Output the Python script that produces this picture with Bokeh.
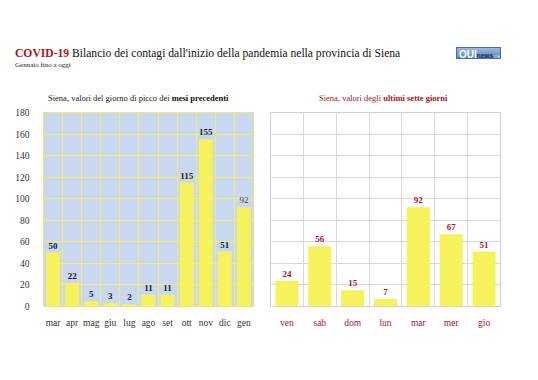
from bokeh.plotting import figure
from bokeh.models import Div, FixedTicker, ColumnDataSource
from bokeh.layouts import column, row
from bokeh.embed import file_html
from bokeh.resources import INLINE
from bokeh.core.properties import value

# ---- data ----
months = ["mar", "apr", "mag", "giu", "lug", "ago", "set", "ott", "nov", "dic", "gen"]
month_peaks = [50, 22, 5, 3, 2, 11, 11, 115, 155, 51, 92]
days = ["ven", "sab", "dom", "lun", "mar", "mer", "gio"]
day_values = [24, 56, 15, 7, 92, 67, 51]
y_ticks = [0, 20, 40, 60, 80, 100, 120, 140, 160, 180]

SERIF = "Liberation Serif"
YELLOW = "#f6f25c"
DARKRED = "#b0141a"

# ---- header ----
header = Div(
    width=530, height=80, margin=0,
    text=(
        '<div style="position:relative;width:530px;height:80px;font-family:\'Liberation Serif\',serif;">'
        '<div style="position:absolute;left:15px;top:46px;font-size:11.6px;white-space:nowrap;color:#111;">'
        '<span style="color:#b0141a;font-weight:bold;">COVID-19</span> Bilancio dei contagi dall\'inizio della pandemia nella provincia di Siena</div>'
        '<div style="position:absolute;left:15px;top:60px;font-size:7px;white-space:nowrap;color:#222;">Gennaio fino a oggi</div>'
        '<div style="position:absolute;left:456px;top:47px;width:45px;height:12px;background:linear-gradient(#9db9e0,#5f86bd);'
        'border:1px solid #4a6fa5;font-family:Arial,sans-serif;line-height:12px;white-space:nowrap;overflow:hidden;">'
        '<span style="color:#fff;font-weight:bold;font-size:10px;margin-left:2px;">QUI</span>'
        '<span style="color:#1d2f5a;font-weight:bold;font-size:6.5px;">news</span>'
        '<span style="color:#dbe5f5;font-size:5.5px;">.net</span></div>'
        '</div>'
    ),
)

title1 = Div(
    width=265, height=26, margin=0,
    text=('<div style="position:relative;width:265px;height:26px;font-family:\'Liberation Serif\',serif;">'
          '<div style="position:absolute;left:48px;top:12px;font-size:8.5px;white-space:nowrap;color:#222;">'
          'Siena, valori del giorno di picco dei <b style="color:#111;">mesi precedenti</b></div></div>'),
)
title2 = Div(
    width=265, height=26, margin=0,
    text=('<div style="position:relative;width:265px;height:26px;font-family:\'Liberation Serif\',serif;">'
          '<div style="position:absolute;left:54px;top:12px;font-size:8.5px;white-space:nowrap;color:#b0141a;">'
          'Siena, valori degli <b>ultimi sette giorni</b></div></div>'),
)

# ---- left chart ----
n1 = len(months)
x1 = [i + 0.5 for i in range(n1)]
src1 = ColumnDataSource(dict(x=x1, top=month_peaks))

p1 = figure(width=265, height=224, x_range=(0, n1), y_range=(0, 180),
            output_backend="svg", toolbar_location=None, margin=0,
            min_border_left=43, min_border_right=12, min_border_top=6, min_border_bottom=24)
p1.background_fill_color = "#c9d8f0"
p1.border_fill_color = "white"
p1.outline_line_color = "#e8e86a"
p1.vbar(x="x", top="top", width=0.72, bottom=0, source=src1, fill_color=YELLOW, line_color=None)

# labels: all bold dark except last (regular)
src1b = ColumnDataSource(dict(x=x1[:-1], y=month_peaks[:-1], lab=[str(v) for v in month_peaks[:-1]]))
src1c = ColumnDataSource(dict(x=x1[-1:], y=month_peaks[-1:], lab=[str(v) for v in month_peaks[-1:]]))
p1.text(x="x", y="y", text="lab", source=src1b, text_align="center", text_baseline="bottom",
        y_offset=-4, text_font=value(SERIF), text_font_style="bold", text_font_size="9px", text_color="#1a1a2a")
p1.text(x="x", y="y", text="lab", source=src1c, text_align="center", text_baseline="bottom",
        y_offset=-4, text_font=value(SERIF), text_font_size="9px", text_color="#444455")

p1.xaxis.ticker = FixedTicker(ticks=x1)
p1.xaxis.major_label_overrides = {x: m for x, m in zip(x1, months)}
p1.yaxis.ticker = FixedTicker(ticks=y_ticks)
p1.xgrid.ticker = FixedTicker(ticks=list(range(n1 + 1)))
p1.ygrid.ticker = FixedTicker(ticks=y_ticks)
for g in (p1.xgrid, p1.ygrid):
    g.grid_line_color = "#eeee70"
    g.grid_line_width = 1
for ax in (p1.xaxis, p1.yaxis):
    ax.axis_line_color = None
    ax.major_tick_line_color = None
    ax.minor_tick_line_color = None
    ax.major_label_text_font = SERIF
    ax.major_label_text_font_size = "9.5px"
    ax.major_label_text_color = "#333333"
p1.xaxis.major_label_standoff = 5
p1.yaxis.major_label_standoff = 8

# ---- right chart ----
n2 = len(days)
x2 = [i + 0.5 for i in range(n2)]
src2 = ColumnDataSource(dict(x=x2, top=day_values, lab=[str(v) for v in day_values]))

p2 = figure(width=265, height=224, x_range=(0, n2), y_range=(0, 180),
            output_backend="svg", toolbar_location=None, margin=0,
            min_border_left=5, min_border_right=30, min_border_top=6, min_border_bottom=24)
p2.background_fill_color = "white"
p2.border_fill_color = "white"
p2.outline_line_color = "#d0d0d0"
p2.vbar(x="x", top="top", width=0.7, bottom=0, source=src2, fill_color=YELLOW, line_color=None)
p2.text(x="x", y="top", text="lab", source=src2, text_align="center", text_baseline="bottom",
        y_offset=-4, text_font=value(SERIF), text_font_style="bold", text_font_size="9px", text_color=DARKRED)

p2.xaxis.ticker = FixedTicker(ticks=x2)
p2.xaxis.major_label_overrides = {x: d for x, d in zip(x2, days)}
p2.yaxis.visible = False
p2.xgrid.ticker = FixedTicker(ticks=list(range(n2 + 1)))
p2.ygrid.ticker = FixedTicker(ticks=y_ticks)
for g in (p2.xgrid, p2.ygrid):
    g.grid_line_color = "#d9d9d9"
    g.grid_line_width = 1
p2.xaxis.axis_line_color = None
p2.xaxis.major_tick_line_color = None
p2.xaxis.minor_tick_line_color = None
p2.xaxis.major_label_text_font = SERIF
p2.xaxis.major_label_text_font_size = "9.5px"
p2.xaxis.major_label_text_color = DARKRED
p2.xaxis.major_label_standoff = 5

left = column(title1, p1, spacing=0, margin=0)
right = column(title2, p2, spacing=0, margin=0)
layout = column(header, row(left, right, spacing=0, margin=0), spacing=0, margin=0)
open("out.html", "w").write(file_html(layout, INLINE))
